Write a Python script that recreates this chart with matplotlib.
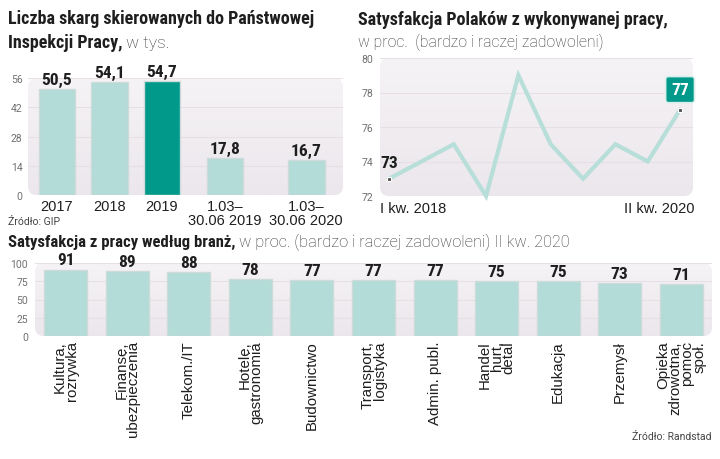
import matplotlib
matplotlib.use("Agg")
import numpy as np
import matplotlib.pyplot as plt
from matplotlib.patches import FancyBboxPatch
from matplotlib.colors import LinearSegmentedColormap
from matplotlib import font_manager

# data
skargi_labels = ["2017", "2018", "2019", "1.03–\n30.06 2019", "1.03–\n30.06 2020"]
skargi_values = [50.5, 54.1, 54.7, 17.8, 16.7]
skargi_ticks = [0, 14, 28, 42, 56]

kwartaly = ["I kw. 2018", "II kw. 2018", "III kw. 2018", "IV kw. 2018",
            "I kw. 2019", "II kw. 2019", "III kw. 2019", "IV kw. 2019",
            "I kw. 2020", "II kw. 2020"]
satysfakcja = [73, 74, 75, 72, 79, 75, 73, 75, 74, 77]
satys_ticks = [72, 74, 76, 78, 80]

branze = ["Kultura,\nrozrywka", "Finanse,\nubezpieczenia", "Telekom./IT",
          "Hotele,\ngastronomia", "Budownictwo", "Transport,\nlogistyka",
          "Admin. publ.", "Handel\nhurt,\ndetal", "Edukacja", "Przemysł",
          "Opieka\nzdrowotna,\npomoc\nspoł."]
branze_values = [91, 89, 88, 78, 77, 77, 77, 75, 75, 73, 71]
branze_ticks = [0, 25, 50, 75, 100]

LIGHT = "#b3dbd7"
DARK = "#00998a"
EDGE = "#cddcdb"
GRID = "#e6dfe6"
TICKC = "#707070"
TXT = "#1e1e1e"

names = {f.name for f in font_manager.fontManager.ttflist}
COND = next((n for n in ["Roboto Condensed", "Barlow Condensed", "Saira SemiCondensed",
                         "Liberation Sans Narrow", "Roboto"] if n in names), "DejaVu Sans")
plt.rcParams["font.family"] = ["Roboto", "DejaVu Sans"]
REG = ["Liberation Sans", "DejaVu Sans"]
CONDF = [COND, "DejaVu Sans"]

W, H = 720, 460
fig = plt.figure(figsize=(7.2, 4.6), dpi=100)
panel_cmap = LinearSegmentedColormap.from_list("panel", ["#f6f3f6", "#ebe7ec"])


def box(x0, y0, x1, y1):
    # pixel box (top-left origin) -> figure fraction
    return [x0 / W, 1 - y1 / H, (x1 - x0) / W, (y1 - y0) / H]


def panel(ax, wpx, hpx, r=9):
    ax.set_facecolor("none")
    p = FancyBboxPatch((0, 0), 1, 1, boxstyle=f"round,pad=0,rounding_size={r / wpx}",
                       transform=ax.transAxes, facecolor="none", edgecolor="none",
                       mutation_aspect=wpx / hpx, clip_on=False)
    ax.add_patch(p)
    grad = np.linspace(0, 1, 64).reshape(-1, 1)
    im = ax.imshow(grad, cmap=panel_cmap, extent=(0, 1, 0, 1), aspect="auto",
                   transform=ax.transAxes, origin="upper", zorder=0)
    im.set_clip_path(p)
    for s in ax.spines.values():
        s.set_visible(False)
    ax.tick_params(length=0)


def two_part(x, y, bold, light, size, lsize=None):
    t1 = fig.text(x / W, 1 - y / H, bold, fontsize=size, fontweight="bold",
                  family=CONDF, color=TXT, va="baseline")
    if light:
        bb = t1.get_window_extent(fig.canvas.get_renderer())
        fig.text(bb.x1 / W + 0.005, 1 - y / H, light, fontsize=lsize or size - 0.5,
                 fontweight="light", color="#333333", va="baseline")


def yticks(ax, ticks, pad):
    ax.set_yticks(ticks)
    ax.set_yticklabels([str(t) for t in ticks], fontsize=7.5, color=TICKC)
    ax.yaxis.grid(True, color=GRID, linewidth=0.8)
    ax.set_axisbelow(True)
    ax.tick_params(axis="y", pad=pad)


# --- chart 1: skargi ---
ax1 = fig.add_axes(box(28, 79, 343, 196))
pos1 = [0, 1, 2, 3.2, 4.75]
cols = [LIGHT, LIGHT, DARK, LIGHT, LIGHT]
ax1.bar(pos1, skargi_values, width=0.7, color=cols, edgecolor=EDGE,
        linewidth=1, zorder=2)
for x, v in zip(pos1, skargi_values):
    ax1.text(x, v + 1.0, f"{v:.1f}".replace(".", ","), ha="center", va="bottom",
             fontsize=12.5, fontweight="bold", family=CONDF, color=TXT)
ax1.set_xlim(-0.55, 5.45)
ax1.set_ylim(0, 56)
panel(ax1, 315, 117)
yticks(ax1, skargi_ticks, 4)
ax1.set_xticks(pos1)
ax1.set_xticklabels(skargi_labels, fontsize=10.5, color=TXT, linespacing=0.95,
                    family=REG)
ax1.tick_params(axis="x", pad=3)

two_part(8, 24, "Liczba skarg skierowanych do Państwowej", "", 13)
two_part(8, 48, "Inspekcji Pracy,", "w tys.", 13)
fig.text(8 / W, 1 - 222 / H, "Źródło: GIP", fontsize=7.5, color="#444444",
         va="center")

# --- chart 2: satysfakcja ---
ax2 = fig.add_axes(box(380, 59, 693, 197))
x2 = list(range(len(satysfakcja)))
ax2.plot(x2, satysfakcja, color="#b8deda", linewidth=3, solid_joinstyle="miter",
         zorder=3, clip_on=False)
ax2.plot([x2[0], x2[-1]], [satysfakcja[0], satysfakcja[-1]], ls="none", marker="s",
         markersize=3.5, markerfacecolor="#555555", markeredgecolor="white",
         markeredgewidth=0.8, zorder=4, clip_on=False)
ax2.annotate(str(satysfakcja[0]), (x2[0], satysfakcja[0]), xytext=(0, 12),
             textcoords="offset points", ha="center", va="center", fontsize=12.5,
             fontweight="bold", family=CONDF, color=TXT)
ax2.annotate(str(satysfakcja[-1]), (x2[-1], satysfakcja[-1]), xytext=(0, 14.5),
             textcoords="offset points", ha="center", va="center", fontsize=12.5,
             fontweight="bold", family=CONDF, color="white",
             bbox=dict(boxstyle="round,pad=0.32,rounding_size=0.15", fc=DARK,
                       ec="#d9efec", lw=1.2))
ax2.set_xlim(-0.28, 9.4)
ax2.set_ylim(72, 80)
panel(ax2, 313, 138)
yticks(ax2, satys_ticks, 5)
ax2.set_xticks([])
ax2.text(0, -0.09, kwartaly[0], transform=ax2.transAxes,
         ha="left", va="center", fontsize=10.5, color=TXT, family=REG)
ax2.text(1.005, -0.09, kwartaly[-1], transform=ax2.transAxes,
         ha="right", va="center", fontsize=10.5, color=TXT, family=REG)

two_part(358, 25, "Satysfakcja Polaków z wykonywanej pracy,", "", 13)
fig.text(358 / W, 1 - 47 / H, "w proc.  (bardzo i raczej zadowoleni)", fontsize=11.3,
         fontweight="light", color="#333333", va="baseline")

# --- chart 3: branze ---
ax3 = fig.add_axes(box(35, 264, 712, 337))
x3 = list(range(len(branze_values)))
ax3.bar(x3, branze_values, width=0.7, color=LIGHT, edgecolor=EDGE,
        linewidth=1, zorder=2)
for x, v in zip(x3, branze_values):
    ax3.text(x, v + 3, str(v), ha="center", va="bottom", fontsize=12.5,
             fontweight="bold", family=CONDF, color=TXT)
ax3.set_xlim(-0.5, 10.5)
ax3.set_ylim(0, 100)
panel(ax3, 677, 73)
yticks(ax3, branze_ticks, 5)
ax3.set_xticks(x3)
ax3.set_xticklabels(branze, rotation=90, fontsize=10.8, color=TXT,
                    family=REG, linespacing=0.82,
                    ha="center", va="top", multialignment="right")
ax3.tick_params(axis="x", pad=3)

two_part(8, 247, "Satysfakcja z pracy według branż,",
         "w proc. (bardzo i raczej zadowoleni) II kw. 2020", 12, 11.8)
fig.text(712 / W, 1 - 437 / H, "Źródło: Randstad", fontsize=7.5, color="#444444",
         ha="right", va="center")

fig.savefig("out.png", dpi=100, facecolor="white")
